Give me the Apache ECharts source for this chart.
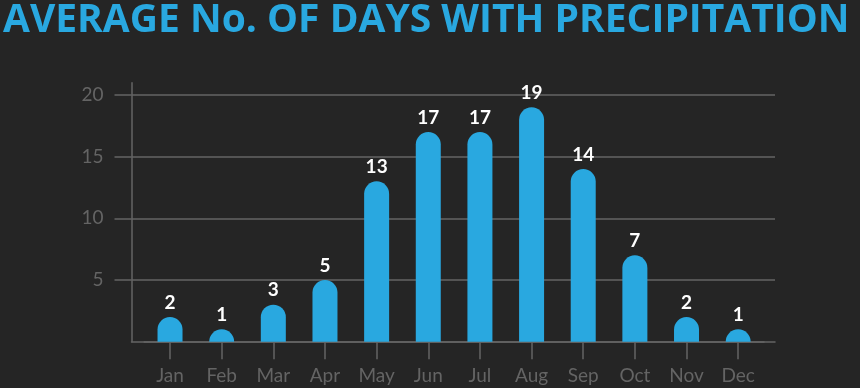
<!DOCTYPE html>
<html>
<head>
<meta charset="utf-8">
<script src="https://cdn.jsdelivr.net/npm/echarts@6/dist/echarts.min.js"></script>
<style>
  html, body { margin: 0; padding: 0; background: #252525; }
  #chart { width: 860px; height: 388px; }
</style>
</head>
<body>
<div id="chart"></div>
<script>
const months = ["Jan", "Feb", "Mar", "Apr", "May", "Jun", "Jul", "Aug", "Sep", "Oct", "Nov", "Dec"]
const rainDays = [2, 1, 3, 5, 13, 17, 17, 19, 14, 7, 2, 1]
const yTicks = [5, 10, 15, 20]

const gray = "#646464"
const blue = "#29a8e0"

const chart = echarts.init(document.getElementById("chart"))
chart.setOption({
    backgroundColor: "#252525",
    animation: false,
    title: {
        text: "AVERAGE No. OF DAYS WITH PRECIPITATION",
        left: -2,
        top: -4,
        textStyle: {
            color: blue,
            fontFamily: "Open Sans",
            fontWeight: 700,
            fontSize: 39,
        },
    },
    // grid 0 holds the frame, grid 1 the bars (inset a little)
    grid: [
        { left: 131.5, right: 85, top: 82.7, bottom: 46.3 },
        { left: 144.2, right: 96, top: 82.7, bottom: 46.3 },
    ],
    xAxis: [
        {
            type: "category",
            gridIndex: 0,
            data: months,
            axisLine: { lineStyle: { color: gray, width: 1.5 } },
            axisTick: { show: false },
            axisLabel: { show: false },
        },
        {
            type: "category",
            gridIndex: 1,
            data: months,
            axisLine: { show: true, onZero: false, lineStyle: { color: gray, width: 1.5 } },
            axisTick: {
                show: true,
                alignWithLabel: true,
                length: 17.5,
                lineStyle: { color: gray, width: 1.5 },
            },
            axisLabel: {
                margin: 25,
                color: gray,
                fontFamily: "Lato",
                fontSize: 19,
            },
        },
    ],
    yAxis: [
        {
            type: "value",
            gridIndex: 0,
            min: 0,
            max: 21,
            interval: 5,
            axisLine: { show: true, lineStyle: { color: gray, width: 1.5 } },
            axisTick: {
                show: true,
                length: 17,
                customValues: yTicks,
                lineStyle: { color: gray, width: 1.5 },
            },
            axisLabel: {
                margin: 28,
                customValues: yTicks,
                color: gray,
                fontFamily: "Lato",
                fontSize: 19,
            },
            splitLine: {
                customValues: yTicks,
                lineStyle: { color: gray, width: 1.5 },
            },
        },
        {
            type: "value",
            gridIndex: 1,
            min: 0,
            max: 21,
            show: false,
        },
    ],
    series: [
        {
            type: "bar",
            xAxisIndex: 1,
            yAxisIndex: 1,
            data: rainDays,
            barWidth: 25,
            itemStyle: { color: blue, borderRadius: [12.5, 12.5, 0, 0] },
            label: {
                show: true,
                position: "top",
                distance: 5,
                color: "#ffffff",
                fontFamily: "Lato",
                fontWeight: 700,
                fontSize: 19,
            },
        },
    ],
})
</script>
</body>
</html>
